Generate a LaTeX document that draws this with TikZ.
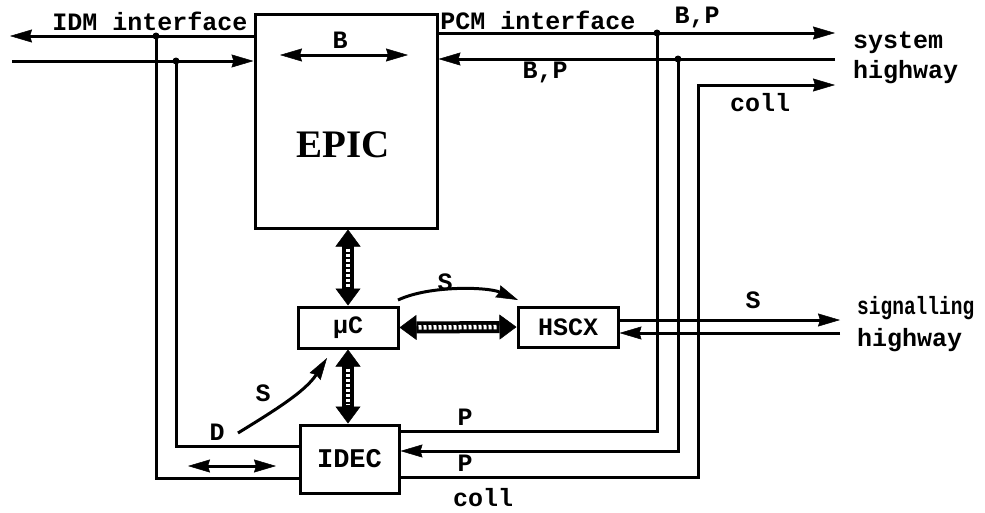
\documentclass[tikz,border=0pt]{standalone}
\usepackage{fontspec}
\usepackage{graphicx}
\usetikzlibrary{arrows.meta}
\newfontfamily\lmono{Liberation Mono}
\newfontfamily\lserif{Liberation Serif}
\begin{document}
\begin{tikzpicture}[x=1pt,y=-1pt,
  ln/.style={line width=3pt},
  arr/.style={ln,-{Stealth[length=22pt,width=13pt,inset=2pt,line width=0.5pt]}},
  darr/.style={ln,{Stealth[length=22pt,width=13pt,inset=2pt,line width=0.5pt]}-{Stealth[length=22pt,width=13pt,inset=2pt,line width=0.5pt]}},
  box/.style={draw,line width=3pt,inner sep=0pt,font=\lmono\bfseries\fontsize{25}{25}\selectfont},
  lbl/.style={inner sep=0pt,font=\lmono\bfseries\fontsize{25}{25}\selectfont},
  bus/.style={line width=12pt,{Triangle[length=17pt,width=25pt,line width=0.5pt]}-{Triangle[length=17pt,width=25pt,line width=0.5pt]}},
  busin/.style={white,line width=4.5pt,dash pattern=on 3pt off 2pt,shorten <=19pt,shorten >=19pt},
  dot/.style={circle,fill,inner sep=0pt,minimum size=7pt}]
\useasboundingbox (0,0) rectangle (985,512);

% boxes
\node[box,minimum width=182pt,minimum height=214pt] (epic) at (346,121) {};
\node[inner sep=0pt,font=\lserif\bfseries\fontsize{39}{39}\selectfont] (epiclbl) at (343,145) {EPIC};
\node[box,minimum width=100pt,minimum height=41pt] (mu) at (348,327.5) {µC};
\node[box,minimum width=100pt,minimum height=40pt] (hscx) at (568,327) {HSCX};
\node[box,minimum width=99pt,minimum height=68pt,font=\lmono\bfseries\fontsize{27}{27}\selectfont] (idec) at (349.5,459) {IDEC};

% junctions and free ends
\node[dot] (j1) at (156,36) {};
\node[dot] (j2) at (176,61) {};
\node[dot] (j3) at (657,33) {};
\node[dot] (j4) at (678,59) {};
\coordinate (L1) at (10,36);
\coordinate (L2) at (12,61);
\coordinate (R1) at (835,33);
\coordinate (R2) at (835,59);
\coordinate (R3) at (835,85);
\coordinate (c3) at (698,85);
\coordinate (S1) at (840,320);
\coordinate (S2) at (840,333);
\coordinate (Ba) at (280,55);
\coordinate (Bb) at (408,55);
\coordinate (Da) at (188,466);
\coordinate (Db) at (276,466);
\coordinate (sa) at (398,300);
\coordinate (sb) at (518,300);
\coordinate (da) at (238,433);
\coordinate (db) at (327,358);

% IDM side
\draw[arr] (epic.west |- L1) -- (L1);
\draw[arr] (L2) -- (epic.west |- L2);
\draw[ln] (j1.center) |- (idec.west |- 0,478);
\draw[ln] (j2.center) |- (idec.west |- 0,446);
\draw[darr] (Da) -- (Db);

% PCM side
\draw[arr] (epic.east |- R1) -- (R1);
\draw[arr] (R2) -- (epic.east |- R2);
\draw[ln] (j3.center) |- (idec.east |- 0,431);
\draw[arr] (j4.center) |- (idec.east |- 0,451);
\draw[arr] (idec.east |- 0,477) -| (c3) -- (R3);

% signalling highway
\draw[arr] (hscx.east |- S1) -- (S1);
\draw[arr] (S2) -- (hscx.east |- S2);

% inner B arrow
\draw[darr] (Ba) -- (Bb);

% S curves
\draw[arr] (sa) .. controls (430,285) and (488,287) .. (sb);
\draw[arr] (da) .. controls (272,412) and (305,392) .. (db);

% buses
\draw[bus] (epic.south -| mu.north) -- (mu.north);
\draw[busin] (epic.south -| mu.north) -- (mu.north);
\draw[bus] (mu.south) -- (idec.north -| mu.south);
\draw[busin] (mu.south) -- (idec.north -| mu.south);
\draw[bus] (mu.east) -- (hscx.west);
\draw[busin] (mu.east) -- (hscx.west);

% labels
\node[lbl] (tIDM) at (150,21) {IDM interface};
\node[lbl] (tPCM) at (538,20) {PCM interface};
\node[lbl] (tBP1) at (697,17) {B,P};
\node[lbl] (tBP2) at (545,72) {B,P};
\node[lbl] (tB) at (340,40) {B};
\node[lbl] (tcoll1) at (760,103) {coll};
\node[lbl,anchor=west] (tsys) at (853,43) {system};
\node[lbl,anchor=west] (thw1) at (853,72) {highway};
\node[lbl,anchor=west] (tsig) at (857,308) {\scalebox{0.78}[1]{signalling}};
\node[lbl,anchor=west] (thw2) at (857,340) {highway};
\node[lbl] (tS1) at (753,300) {S};
\node[lbl] (tS2) at (445,282) {S};
\node[lbl] (tS3) at (263,393) {S};
\node[lbl] (tD) at (217,432) {D};
\node[lbl] (tP1) at (465,417) {P};
\node[lbl] (tP2) at (465,463) {P};
\node[lbl] (tcoll2) at (483,498) {coll};
\end{tikzpicture}
\end{document}
